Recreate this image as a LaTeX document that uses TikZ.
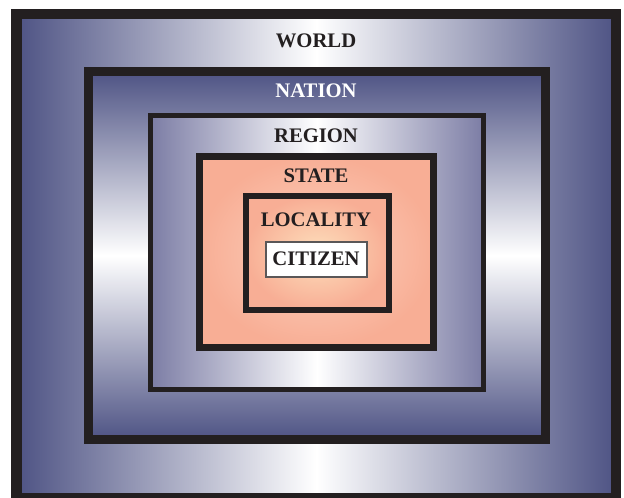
\documentclass[tikz,border=0pt]{standalone}
\usepackage{fontspec}
\setmainfont{Liberation Serif}
\begin{document}
\begin{tikzpicture}[x=0.75pt,y=-0.75pt,
  frame/.style={draw=frameblack,line join=miter},
  lbl/.style={font=\fontsize{15.5}{18}\selectfont\bfseries,text=frameblack,inner sep=0pt}]
\definecolor{bluedk}{HTML}{4E5384}
\definecolor{bluemd}{HTML}{7C7DA5}
\definecolor{salmon}{HTML}{F8AE95}
\definecolor{salmonlt}{HTML}{FCD2C0}
\definecolor{peach}{HTML}{FDDFBC}
\definecolor{frameblack}{HTML}{231F20}
\useasboundingbox (0,0) rectangle (624,498);
\begin{scope}
\clip (0,0) rectangle (624,498);
% world
\shade[left color=bluedk,right color=bluedk,middle color=white] (16.5,14) rectangle (616,498);
\draw[frame,line width=7.9pt] (16.5,14) rectangle (616,498);
% nation
\shade[top color=bluedk,bottom color=bluedk,middle color=white] (88.25,71.25) rectangle (545.75,439.75);
\draw[frame,line width=6.4pt] (88.25,71.25) rectangle (545.75,439.75);
% region
\shade[left color=bluemd,right color=bluemd,middle color=white] (150.75,115.75) rectangle (483.25,389.25);
\draw[frame,line width=4.1pt] (150.75,115.75) rectangle (483.25,389.25);
% state
\shade[inner color=salmonlt,outer color=salmon] (199.25,156.25) rectangle (433.75,347.75);
\draw[frame,line width=4.9pt] (199.25,156.25) rectangle (433.75,347.75);
% locality
\shade[inner color=peach,outer color=salmon] (246,196) rectangle (389,310);
\draw[frame,line width=4.5pt] (246,196) rectangle (389,310);
% citizen
\draw[fill=white,draw=frameblack!75,line width=0.9pt] (266,242) rectangle (367,277);
\end{scope}
\node[lbl] (world) at (316,40.5) {WORLD};
\node[lbl,text=white] (nation) at (316,91) {NATION};
\node[lbl] (region) at (316,136) {REGION};
\node[lbl] (state) at (316,175.5) {STATE};
\node[lbl] (locality) at (316,219.5) {LOCALITY};
\node[lbl] (citizen) at (316,258.5) {CITIZEN};
\end{tikzpicture}
\end{document}
